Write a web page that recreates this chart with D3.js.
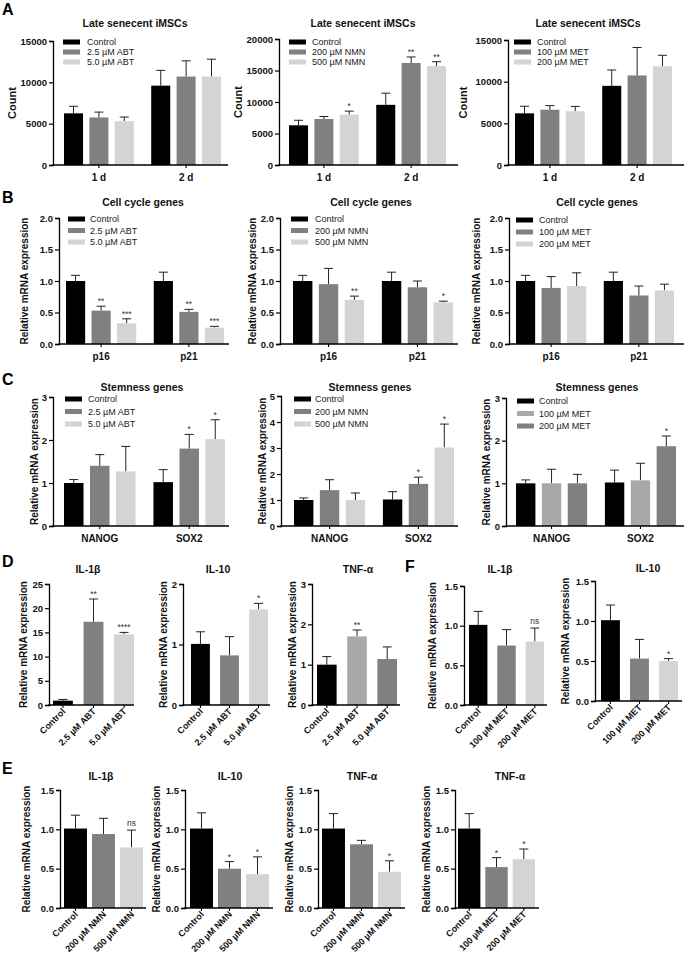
<!DOCTYPE html>
<html><head><meta charset="utf-8">
<script src="https://cdn.jsdelivr.net/npm/d3@7"></script>
<style>body{margin:0;background:#fff}svg{display:block;font-family:"Liberation Sans",Arial,sans-serif}</style>
</head><body><svg id="c" width="685" height="967"></svg>
<script>
// ---------- DATA ----------
const dayCats = ["1 d", "2 d"];
const cycleCats = ["p16", "p21"];
const stemCats = ["NANOG", "SOX2"];
const abtSeries = ["Control", "2.5 µM ABT", "5.0 µM ABT"];
const nmnSeries = ["Control", "200 µM NMN", "500 µM NMN"];
const metSeries = ["Control", "100 µM MET", "200 µM MET"];

// A: cell counts (group-major: 1 d x3, 2 d x3)
const countABT = [6250, 5750, 5300, 9600, 10700, 10700];
const countABTsd = [850, 650, 500, 1850, 1900, 2100];
const countABTsig = ["", "", "", "", "", ""];
const countNMN = [6300, 7300, 8000, 9550, 16200, 15700];
const countNMNsd = [800, 400, 550, 1850, 950, 700];
const countNMNsig = ["", "", "*", "", "**", "**"];
const countMET = [6200, 6630, 6450, 9500, 10750, 11850];
const countMETsd = [850, 500, 580, 1900, 3350, 1320];
const countMETsig = ["", "", "", "", "", ""];
const countTicks = [0, 5000, 10000, 15000];
const countTicks2 = [0, 5000, 10000, 15000, 20000];

// B: cell cycle genes
const cycleABT = [1.0, 0.53, 0.33, 1.0, 0.51, 0.26];
const cycleABTsd = [0.09, 0.07, 0.07, 0.14, 0.04, 0.02];
const cycleABTsig = ["", "**", "***", "", "**", "***"];
const cycleNMN = [1.0, 0.95, 0.70, 1.0, 0.90, 0.66];
const cycleNMNsd = [0.09, 0.25, 0.06, 0.14, 0.10, 0.02];
const cycleNMNsig = ["", "", "**", "", "", "*"];
const cycleMET = [1.0, 0.89, 0.92, 1.0, 0.77, 0.85];
const cycleMETsd = [0.09, 0.18, 0.21, 0.14, 0.15, 0.10];
const cycleMETsig = ["", "", "", "", "", ""];
const cycleTicks = [0, 0.5, 1.0, 1.5, 2.0];

// C: stemness genes
const stemABT = [1.0, 1.40, 1.27, 1.02, 1.80, 2.02];
const stemABTsd = [0.08, 0.26, 0.58, 0.29, 0.33, 0.45];
const stemABTsig = ["", "", "", "", "*", "*"];
const stemNMN = [1.0, 1.38, 1.0, 1.02, 1.62, 3.02];
const stemNMNsd = [0.08, 0.40, 0.27, 0.30, 0.26, 0.90];
const stemNMNsig = ["", "", "", "", "*", "*"];
const stemMET = [1.0, 1.0, 1.0, 1.02, 1.07, 1.87];
const stemMETsd = [0.08, 0.33, 0.21, 0.29, 0.40, 0.24];
const stemMETsig = ["", "", "", "", "", "*"];
const stemTicks3 = [0, 1, 2, 3];
const stemTicks5 = [0, 1, 2, 3, 4, 5];

// D: inflammatory genes, ABT
const d_il1b = [0.9, 17.2, 14.6], d_il1bSd = [0.25, 4.7, 0.4], d_il1bSig = ["", "**", "****"];
const d_il10 = [1.01, 0.82, 1.58], d_il10Sd = [0.20, 0.31, 0.10], d_il10Sig = ["", "", "*"];
const d_tnf = [1.0, 1.70, 1.14], d_tnfSd = [0.20, 0.16, 0.30], d_tnfSig = ["", "**", ""];
const dTicksIL1b = [0, 5, 10, 15, 20, 25];
const dTicksIL10 = [0, 1, 2];
const dTicksTNF = [0, 1, 2, 3];

// E: NMN (and MET TNF-α)
const e_il1b = [1.01, 0.94, 0.77], e_il1bSd = [0.17, 0.20, 0.22], e_il1bSig = ["", "", "ns"];
const e_il10 = [1.01, 0.50, 0.43], e_il10Sd = [0.20, 0.09, 0.22], e_il10Sig = ["", "*", "*"];
const e_tnf = [1.01, 0.81, 0.46], e_tnfSd = [0.19, 0.05, 0.14], e_tnfSig = ["", "", "*"];
const e_tnfMET = [1.01, 0.52, 0.62], e_tnfMETsd = [0.19, 0.12, 0.13], e_tnfMETsig = ["", "*", "*"];

// F: MET
const f_il1b = [1.01, 0.75, 0.80], f_il1bSd = [0.17, 0.20, 0.17], f_il1bSig = ["", "", "ns"];
const f_il10 = [1.01, 0.53, 0.50], f_il10Sd = [0.19, 0.24, 0.03], f_il10Sig = ["", "", "*"];
const relTicks = [0, 0.5, 1.0, 1.5];

// ---------- STYLE ----------
const BLACK = "#000000", DARK = "#808080", LIGHT = "#d4d4d4", MID = "#a8a8a8";
const colStd = [BLACK, DARK, LIGHT];
const colAlt = [BLACK, MID, DARK];
const FONT = '"Liberation Sans", Arial, sans-serif';

const svg = d3.select("#c");
svg.append("rect").attr("width", 685).attr("height", 967).attr("fill", "#fff");

function drawPanel(p) {
  const g = svg.append("g");
  const y = d3.scaleLinear().domain([0, p.max]).range([p.yBot, p.yTop]);
  const fmt = p.fmt ? d3.format(p.fmt) : d3.format("d");
  let barX, barW, catCenters;
  if (p.grouped) {
    const x0 = d3.scaleBand().domain(p.cats).range([p.bandL, p.bandR]).paddingInner(0.2).paddingOuter(0);
    const x1 = d3.scaleBand().domain(p.series).range([0, x0.bandwidth()]).paddingInner(0.25);
    barX = (i) => x0(p.cats[Math.floor(i / p.series.length)]) + x1(p.series[i % p.series.length]);
    barW = x1.bandwidth();
    catCenters = p.cats.map(c => ({c, x: x0(c) + x0.bandwidth() / 2}));
  } else {
    const x = d3.scaleBand().domain(p.series).range([p.bandL, p.bandR]).paddingInner(p.pad || 0.35).paddingOuter(0);
    barX = (i) => x(p.series[i]);
    barW = x.bandwidth();
    catCenters = p.series.map(c => ({c, x: x(c) + x.bandwidth() / 2}));
  }
  const items = p.means.map((m, i) => ({m, sd: p.sds[i], sig: p.sigs[i], i, col: p.colors[i % p.series.length]}));
  const eb = g.selectAll(".eb").data(items).enter().append("g");
  eb.append("line").attr("x1", d => barX(d.i) + barW / 2).attr("x2", d => barX(d.i) + barW / 2)
    .attr("y1", d => y(d.m)).attr("y2", d => y(d.m + d.sd)).attr("stroke", "#222").attr("stroke-width", 1);
  eb.append("line").attr("x1", d => barX(d.i) + barW / 2 - 4.5).attr("x2", d => barX(d.i) + barW / 2 + 4.5)
    .attr("y1", d => y(d.m + d.sd)).attr("y2", d => y(d.m + d.sd)).attr("stroke", "#222").attr("stroke-width", 1);
  g.selectAll(".bar").data(items).enter().append("rect")
    .attr("x", d => barX(d.i)).attr("width", barW)
    .attr("y", d => y(d.m)).attr("height", d => y(0) - y(d.m)).attr("fill", d => d.col);
  g.selectAll(".sig").data(items.filter(d => d.sig)).enter().append("text")
    .attr("x", d => barX(d.i) + barW / 2).attr("y", d => y(d.m + d.sd) - (d.sig === "ns" ? 4 : 2))
    .attr("text-anchor", "middle").attr("font-size", 8.5)
    .attr("fill", "#333").text(d => d.sig);
  const ax = g.append("g").attr("transform", `translate(${p.axisX},0)`)
    .call(d3.axisLeft(y).tickValues(p.ticks).tickSize(4).tickPadding(2).tickFormat(fmt));
  ax.select(".domain").attr("stroke", "#000").attr("stroke-width", 1.3);
  ax.selectAll(".tick line").attr("stroke", "#000").attr("stroke-width", 1.2);
  ax.selectAll(".tick text").attr("font-family", FONT).attr("font-weight", "bold").attr("font-size", 9.5).attr("fill", "#111");
  g.append("line").attr("x1", p.axisX - 0.6).attr("x2", p.xEnd).attr("y1", p.yBot).attr("y2", p.yBot)
    .attr("stroke", "#000").attr("stroke-width", 1.3);
  g.selectAll(".xt").data(catCenters).enter().append("line")
    .attr("x1", d => d.x).attr("x2", d => d.x).attr("y1", p.yBot).attr("y2", p.yBot + 3)
    .attr("stroke", "#000").attr("stroke-width", 1.1);
  if (p.grouped) {
    g.selectAll(".xl").data(catCenters).enter().append("text")
      .attr("x", d => d.x).attr("y", p.yBot + 16).attr("text-anchor", "middle")
      .attr("font-weight", "bold").attr("font-size", 10).attr("fill", "#111").text(d => d.c);
  } else {
    g.selectAll(".xl").data(catCenters).enter().append("text")
      .attr("transform", d => `translate(${d.x + 3},${p.yBot + 7}) rotate(-45)`)
      .attr("text-anchor", "end").attr("font-weight", "bold").attr("font-size", 9).attr("fill", "#111").text(d => d.c);
  }
  g.append("text").attr("x", p.titleX).attr("y", p.titleY).attr("text-anchor", "middle")
    .attr("font-weight", "bold").attr("font-size", p.titleSize || 10.5).attr("fill", "#111").text(p.title);
  g.append("text").attr("transform", `translate(${p.ylabX},${(p.yTop + p.yBot) / 2}) rotate(-90)`)
    .attr("text-anchor", "middle").attr("font-weight", "bold").attr("font-size", p.ylabSize || 10)
    .attr("fill", "#111").text(p.ylabel);
  if (p.legend) {
    const L = p.legend;
    const lg = g.selectAll(".lg").data(p.series).enter().append("g")
      .attr("transform", (d, i) => `translate(${L.x},${L.y + i * L.dy})`);
    lg.append("rect").attr("x", 0).attr("y", -2.5).attr("width", 17).attr("height", 5).attr("fill", (d, i) => p.colors[i]);
    lg.append("text").attr("x", L.tx).attr("y", 3.3).attr("font-size", 9).attr("fill", "#222").text(d => d);
  }
}

const rowA = {grouped: true, cats: dayCats, yBot: 165, titleY: 27, ylabel: "Count", ylabSize: 11};
drawPanel({...rowA, axisX: 53, xEnd: 228, bandL: 64, bandR: 221, yTop: 41, max: 15000, ticks: countTicks,
  series: abtSeries, means: countABT, sds: countABTsd, sigs: countABTsig, colors: colStd,
  title: "Late senecent iMSCs", titleX: 135, ylabX: 16, legend: {x: 63, y: 42, dy: 10, tx: 24}});
drawPanel({...rowA, axisX: 279, xEnd: 458, bandL: 289, bandR: 446, yTop: 39, max: 20000, ticks: countTicks2,
  series: nmnSeries, means: countNMN, sds: countNMNsd, sigs: countNMNsig, colors: colStd,
  title: "Late senecent iMSCs", titleX: 363, ylabX: 242, legend: {x: 289, y: 42, dy: 10, tx: 23}});
drawPanel({...rowA, axisX: 508, xEnd: 684, bandL: 515, bandR: 672, yTop: 40, max: 15000, ticks: countTicks,
  series: metSeries, means: countMET, sds: countMETsd, sigs: countMETsig, colors: colStd,
  title: "Late senecent iMSCs", titleX: 588, ylabX: 467, legend: {x: 514, y: 42, dy: 10, tx: 23}});

const rowB = {grouped: true, cats: cycleCats, yBot: 344, yTop: 218, max: 2.0, ticks: cycleTicks, fmt: ".1f",
  titleY: 206, ylabel: "Relative mRNA expression", title: "Cell cycle genes"};
drawPanel({...rowB, axisX: 59, xEnd: 229, bandL: 66, bandR: 224, series: abtSeries, means: cycleABT,
  sds: cycleABTsd, sigs: cycleABTsig, colors: colStd, titleX: 143, ylabX: 28, legend: {x: 68, y: 219, dy: 11.5, tx: 22}});
drawPanel({...rowB, axisX: 280, xEnd: 458, bandL: 293, bandR: 453, series: nmnSeries, means: cycleNMN,
  sds: cycleNMNsd, sigs: cycleNMNsig, colors: colStd, titleX: 371, ylabX: 256, legend: {x: 291, y: 219, dy: 11.5, tx: 24}});
drawPanel({...rowB, axisX: 509, xEnd: 684, bandL: 516, bandR: 674, series: metSeries, means: cycleMET,
  sds: cycleMETsd, sigs: cycleMETsig, colors: colStd, titleX: 597, ylabX: 480, legend: {x: 516, y: 220, dy: 12, tx: 23}});

const rowC = {grouped: true, cats: stemCats, yBot: 526, titleY: 391, ylabel: "Relative mRNA expression", title: "Stemness genes"};
drawPanel({...rowC, axisX: 53, xEnd: 229, bandL: 64, bandR: 225, yTop: 397, max: 3, ticks: stemTicks3,
  series: abtSeries, means: stemABT, sds: stemABTsd, sigs: stemABTsig, colors: colStd, titleX: 142, ylabX: 38,
  legend: {x: 65, y: 399, dy: 12.5, tx: 23}});
drawPanel({...rowC, axisX: 281, xEnd: 458, bandL: 294, bandR: 454, yTop: 396, max: 5, ticks: stemTicks5,
  series: nmnSeries, means: stemNMN, sds: stemNMNsd, sigs: stemNMNsig, colors: colStd, titleX: 370, ylabX: 266,
  legend: {x: 294, y: 399, dy: 12.5, tx: 21}});
drawPanel({...rowC, axisX: 506, xEnd: 684, bandL: 516, bandR: 676, yTop: 398, max: 3, ticks: stemTicks3,
  series: metSeries, means: stemMET, sds: stemMETsd, sigs: stemMETsig, colors: colAlt, titleX: 597, ylabX: 490,
  legend: {x: 517, y: 401, dy: 12.5, tx: 22}});

const rowD = {grouped: false, yBot: 705, yTop: 584, titleY: 573, ylabel: "Relative mRNA expression", series: abtSeries};
drawPanel({...rowD, axisX: 49, xEnd: 134, bandL: 53, bandR: 134, max: 25, ticks: dTicksIL1b,
  means: d_il1b, sds: d_il1bSd, sigs: d_il1bSig, colors: colStd, title: "IL-1β", titleX: 88, ylabX: 27});
drawPanel({...rowD, axisX: 183, xEnd: 270, bandL: 191, bandR: 268, max: 2, ticks: dTicksIL10,
  means: d_il10, sds: d_il10Sd, sigs: d_il10Sig, colors: colStd, title: "IL-10", titleX: 218, ylabX: 167});
drawPanel({...rowD, axisX: 312, xEnd: 400, bandL: 317, bandR: 397, max: 3, ticks: dTicksTNF,
  means: d_tnf, sds: d_tnfSd, sigs: d_tnfSig, colors: colAlt, title: "TNF-α", titleX: 358, ylabX: 296});

drawPanel({grouped: false, yBot: 705, yTop: 586, titleY: 573, ylabel: "Relative mRNA expression", series: metSeries,
  axisX: 464, xEnd: 547, bandL: 469, bandR: 544, max: 1.5, ticks: relTicks, fmt: ".1f",
  means: f_il1b, sds: f_il1bSd, sigs: f_il1bSig, colors: colStd, title: "IL-1β", titleX: 500, ylabX: 436});
drawPanel({grouped: false, yBot: 701, yTop: 581, titleY: 572, ylabel: "Relative mRNA expression", series: metSeries,
  axisX: 595, xEnd: 682, bandL: 601, bandR: 678, max: 1.5, ticks: relTicks, fmt: ".1f",
  means: f_il10, sds: f_il10Sd, sigs: f_il10Sig, colors: colStd, title: "IL-10", titleX: 648, ylabX: 569});

const rowE = {grouped: false, yBot: 908, yTop: 790, titleY: 780, ylabel: "Relative mRNA expression", max: 1.5,
  ticks: relTicks, fmt: ".1f", pad: 0.18, colors: colStd};
drawPanel({...rowE, axisX: 60, xEnd: 146, bandL: 64, bandR: 143, series: nmnSeries,
  means: e_il1b, sds: e_il1bSd, sigs: e_il1bSig, title: "IL-1β", titleX: 101, ylabX: 30});
drawPanel({...rowE, axisX: 185, xEnd: 273, bandL: 190, bandR: 269, series: nmnSeries,
  means: e_il10, sds: e_il10Sd, sigs: e_il10Sig, title: "IL-10", titleX: 230, ylabX: 160});
drawPanel({...rowE, axisX: 318, xEnd: 405, bandL: 322, bandR: 401, series: nmnSeries,
  means: e_tnf, sds: e_tnfSd, sigs: e_tnfSig, title: "TNF-α", titleX: 362, ylabX: 293});
drawPanel({...rowE, axisX: 455, xEnd: 539, bandL: 458, bandR: 535, series: metSeries,
  means: e_tnfMET, sds: e_tnfMETsd, sigs: e_tnfMETsig, title: "TNF-α", titleX: 510, ylabX: 430});

// panel letters
const letters = [["A", 2, 15], ["B", 2, 203], ["C", 2, 385], ["D", 2, 567], ["E", 2, 774], ["F", 405, 572]];
svg.selectAll(".letter").data(letters).enter().append("text")
  .attr("x", d => d[1]).attr("y", d => d[2]).attr("font-weight", "bold").attr("font-size", 16).attr("fill", "#000").text(d => d[0]);
</script></body></html>
